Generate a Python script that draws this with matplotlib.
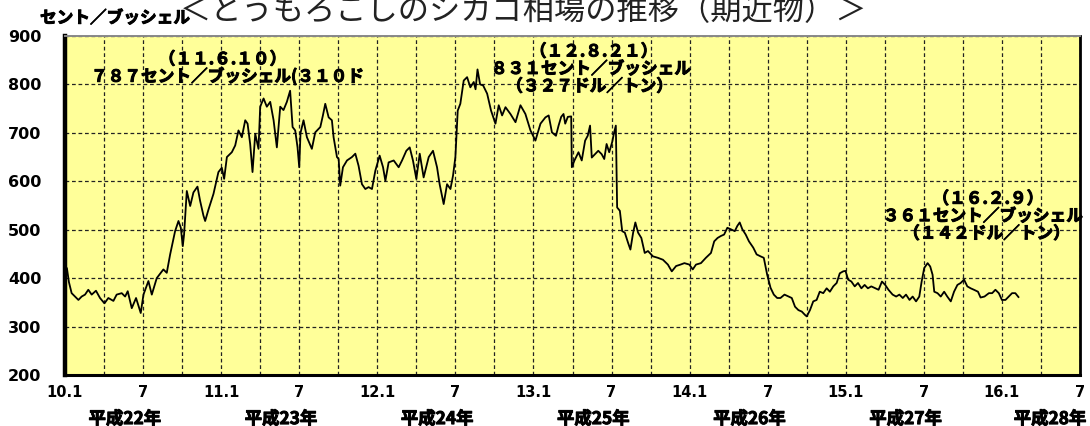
import matplotlib
matplotlib.use("Agg")
import matplotlib.pyplot as plt
import matplotlib.patheffects as pe

# Chicago corn futures (nearby), cents per bushel.
# months: months elapsed since January 2010
months = [
    0.03, 0.15, 0.3, 0.51, 1.03, 1.28, 1.54, 1.79, 2.05, 2.38, 2.69, 3.03, 3.33, 3.72,
    3.97, 4.36, 4.62, 4.82, 5.13, 5.46, 5.82, 6.03, 6.41, 6.67, 7.05, 7.56, 7.82, 8.08,
    8.46, 8.72, 8.9, 9.05, 9.15, 9.36, 9.62, 9.87, 10.18, 10.38, 10.64, 10.77, 11.03,
    11.41, 11.79, 12.05, 12.23, 12.44, 12.82, 13.08, 13.33, 13.59, 13.85, 14.03, 14.23,
    14.41, 14.62, 14.87, 15.0, 15.26, 15.51, 15.77, 16.03, 16.28, 16.54, 16.79, 17.05,
    17.3, 17.49, 17.69, 17.87,
    18.0, 18.1, 18.33, 18.59, 18.97, 19.23, 19.62, 19.82, 20.0, 20.26, 20.51, 20.64,
    20.9, 21.03, 21.15, 21.36, 21.67, 22.05, 22.31, 22.56, 22.82, 23.08, 23.33, 23.59,
    23.85, 24.18, 24.44, 24.62, 24.87, 25.26, 25.64, 25.9, 26.23, 26.49, 26.74, 27.0,
    27.26, 27.56, 27.95, 28.28, 28.59, 28.79, 29.1, 29.36, 29.62, 29.82, 30.0, 30.18,
    30.38, 30.64, 30.9, 31.15, 31.41, 31.55, 31.7, 31.9, 32.13, 32.44, 32.74, 33.08,
    33.33, 33.59, 33.85, 34.23, 34.62, 35.0, 35.38, 35.77, 36.15, 36.54, 36.92,
    37.17, 37.42, 37.73, 37.93, 38.13, 38.31, 38.44, 38.64, 38.9, 38.95, 39.15, 39.46,
    39.71, 39.97, 40.17, 40.35, 40.48, 40.73, 40.98, 41.24, 41.44, 41.62, 41.82, 42.05,
    42.2, 42.33, 42.43, 42.64, 42.82, 43.02, 43.27, 43.45, 43.66, 43.83, 44.04, 44.29,
    44.55, 44.8, 45.18, 45.56, 45.95, 46.33, 46.63, 46.96, 47.3, 47.6, 47.98, 48.24,
    48.49, 48.87, 49.25, 49.64, 49.89, 50.15, 50.4, 50.65, 50.9, 51.16, 51.47, 51.67,
    51.85, 52.05, 52.31, 52.56, 52.89, 53.15, 53.45, 53.7, 53.96, 54.22, 54.47, 54.73,
    54.98, 55.29, 55.62,
    55.85, 56.1, 56.36, 56.62, 56.87, 57.0, 57.25, 57.5, 57.76, 58.0, 58.27, 58.53,
    58.78, 59.04, 59.3, 59.54, 59.8, 59.98, 60.18, 60.43, 60.69, 60.94, 61.2, 61.45,
    61.7, 61.96, 62.27, 62.52, 62.78, 63.03, 63.28, 63.6, 63.87, 64.12, 64.38, 64.63,
    64.9, 65.14, 65.4, 65.65, 65.83, 66.03, 66.29, 66.49, 66.67, 66.8, 67.05, 67.3,
    67.56, 67.8, 68.07, 68.32, 68.58, 68.83, 69.09, 69.34, 69.6, 69.85, 70.16, 70.36,
    70.66, 71.0, 71.25, 71.5, 71.76, 72.0, 72.27, 72.52, 72.78, 73.03, 73.27,
]
price = [
    425, 420, 392, 369, 355, 362, 366, 376, 366, 374, 359, 348, 359, 353,
    366, 369, 362, 373, 338, 359, 328, 366, 394, 366, 400, 418, 411, 449,
    497, 518, 504, 466, 490, 580, 549, 577, 589, 560, 529, 518, 542,
    574, 619, 628, 605, 650, 660, 674, 705, 691, 726, 719, 677,
    619, 698, 667, 754, 771, 754, 764, 726, 670, 754, 747, 764,
    787, 712, 705, 670,
    629, 700, 726, 691, 667, 701, 712, 736, 760, 732, 726, 691,
    650, 646, 591, 629, 643, 650, 657, 632, 594, 584, 588, 584,
    622, 653, 629, 601, 639, 643, 629, 643, 663, 670, 643, 605,
    657, 608, 650, 663, 629, 594, 553, 594, 584, 612, 650, 746,
    760, 808, 815, 794, 805, 790, 831, 800, 798, 781, 746, 719,
    757, 736, 753, 739, 722, 757, 739, 705, 684, 719, 732,
    736, 701, 694, 715, 733, 739, 719, 733, 734, 629, 643, 660,
    643, 684, 694, 715, 649, 656, 663, 656, 646, 677, 660, 681,
    701, 715, 546, 539, 497, 494, 473, 459, 494, 515, 494, 483,
    452, 456, 445, 442, 438, 428, 414, 425, 428, 431, 428, 418,
    428, 431, 442, 452, 476, 483, 487, 490, 504, 501, 497, 508,
    515, 501, 490, 476, 463, 449, 445, 442, 407, 380, 366, 359,
    359, 366, 362,
    359, 341, 334, 331, 324, 321, 334, 352, 355, 372, 369, 379,
    372, 383, 390, 410, 414, 415, 397, 393, 383, 390, 379, 386,
    379, 383, 379, 376, 393, 386, 376, 366, 362, 366, 359, 366,
    355, 362, 352, 362, 393, 421, 431, 424, 407, 372, 369, 362,
    372, 362, 352, 372, 386, 390, 397, 383, 379, 376, 372, 360,
    362, 369, 369, 376, 369, 355, 355, 362, 369, 369, 361,
]

x_tick_labels = ["10.1", "7", "11.1", "7", "12.1", "7", "13.1", "7",
                 "14.1", "7", "15.1", "7", "16.1", "7"]
y_ticks = [200, 300, 400, 500, 600, 700, 800, 900]
year_labels = ["平成22年", "平成23年", "平成24年", "平成25年",
               "平成26年", "平成27年", "平成28年"]

title = "＜とうもろこしのシカゴ相場の推移（期近物）＞"
unit_label = "セント／ブッシェル"
note_2011 = ["（１１.６.１０）", "７８７セント／ブッシェル(３１０ド"]
note_2012 = ["（１２.８.２１）", "８３１セント／ブッシェル", "（３２７ドル／トン）"]
note_2016 = ["（１６.２.９）", "３６１セント／ブッシェル", "（１４２ドル／トン）"]

JP = ["Noto Sans CJK JP", "DejaVu Sans"]
plt.rcParams["font.family"] = ["DejaVu Sans", "Noto Sans CJK JP"]
heavy = [pe.withStroke(linewidth=0.7, foreground="black")]

fig = plt.figure(figsize=(10.9, 4.26), dpi=100)
ax = fig.add_axes([65 / 1090, 1 - 375 / 426, 1015 / 1090, 339 / 426])
ax.set_facecolor("#FFFF99")

ax.plot(months, price, color="black", lw=1.3, zorder=3)

ax.set_xlim(0, 78)
ax.set_ylim(200, 900)
ax.set_xticks(range(0, 79, 6))
ax.set_xticklabels(x_tick_labels, fontsize=10.5, fontweight="bold")
ax.set_xticks(range(0, 79, 3), minor=True)
ax.set_yticks(y_ticks)
ax.set_yticklabels([str(v) for v in y_ticks], fontsize=11.5, fontweight="bold")
ax.tick_params(axis="both", which="both", length=0)
ax.tick_params(axis="x", pad=7)
ax.tick_params(axis="y", pad=17)

grid_style = dict(color="#222222", lw=0.9, linestyle=(0, (3, 2.2)))
ax.grid(True, axis="x", which="both", **grid_style)
ax.grid(True, axis="y", which="major", **grid_style)
ax.set_axisbelow(True)

ax.spines["left"].set_linewidth(3.2)
ax.spines["bottom"].set_linewidth(2.2)
ax.spines["right"].set_linewidth(2.0)
ax.spines["top"].set_linewidth(1.4)
ax.spines["top"].set_color("#888888")

# Year captions under the half-year ticks
for i, lab in enumerate(year_labels):
    xpos = min(4.6 + 12 * i, 75.7)
    ax.text(xpos, -0.13, lab, transform=ax.get_xaxis_transform(),
            ha="center", va="center", fontsize=12.5, fontweight="bold",
            family=JP, path_effects=heavy)

fig.text(0.48, 0.953, title, ha="center", va="baseline", fontsize=22.5,
         color="#222222", family=JP)
fig.text(40 / 1090, 1 - 18 / 426, unit_label, ha="left", va="center",
         fontsize=12, fontweight="bold", family=JP, path_effects=heavy)

note_kw = dict(fontsize=12, fontweight="bold", family=JP, va="center",
               path_effects=heavy)
ax.text(12.08, 852, note_2011[0], ha="center", **note_kw)
ax.text(2.0, 816, note_2011[1], ha="left", **note_kw)
ax.text(40.6, 868, note_2012[0], ha="center", **note_kw)
ax.text(40.4, 832, note_2012[1], ha="center", **note_kw)
ax.text(40.3, 796, note_2012[2], ha="center", **note_kw)
ax.text(70.9, 564, note_2016[0], ha="center", **note_kw)
ax.text(62.85, 528, note_2016[1], ha="left", **note_kw)
ax.text(70.8, 492, note_2016[2], ha="center", **note_kw)

fig.savefig("out.png", dpi=100)
